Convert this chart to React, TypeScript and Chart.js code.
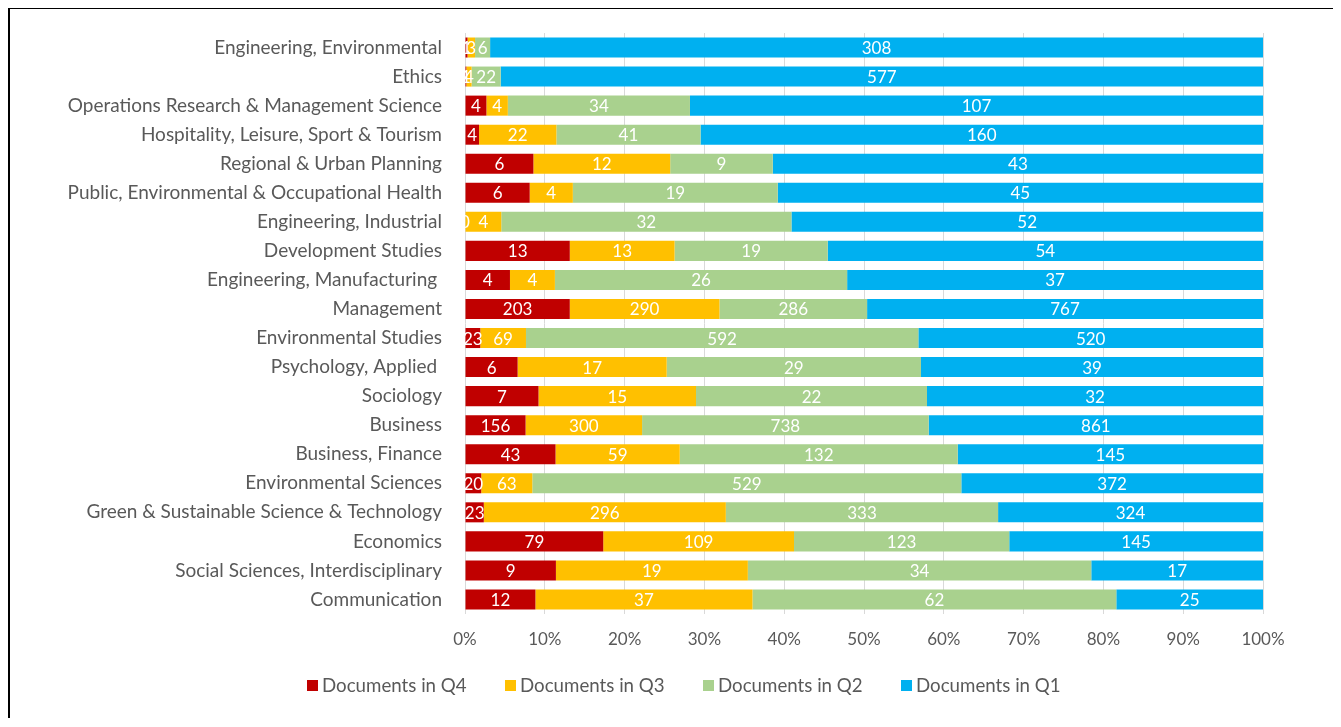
import React, { useEffect, useRef } from "react";
import { Chart, registerables } from "chart.js";

Chart.register(...registerables);

const categories = [
  "Engineering, Environmental",
  "Ethics",
  "Operations Research & Management Science",
  "Hospitality, Leisure, Sport & Tourism",
  "Regional & Urban Planning",
  "Public, Environmental & Occupational Health",
  "Engineering, Industrial",
  "Development Studies",
  "Engineering, Manufacturing ",
  "Management",
  "Environmental Studies",
  "Psychology, Applied ",
  "Sociology",
  "Business",
  "Business, Finance",
  "Environmental Sciences",
  "Green & Sustainable Science & Technology",
  "Economics",
  "Social Sciences, Interdisciplinary",
  "Communication",
];

const q4 = [1, 1, 4, 4, 6, 6, 0, 13, 4, 203, 23, 6, 7, 156, 43, 20, 23, 79, 9, 12];
const q3 = [3, 4, 4, 22, 12, 4, 4, 13, 4, 290, 69, 17, 15, 300, 59, 63, 296, 109, 19, 37];
const q2 = [6, 22, 34, 41, 9, 19, 32, 19, 26, 286, 592, 29, 22, 738, 132, 529, 333, 123, 34, 62];
const q1 = [308, 577, 107, 160, 43, 45, 52, 54, 37, 767, 520, 39, 32, 861, 145, 372, 324, 145, 17, 25];

const seriesNames = ["Documents in Q4", "Documents in Q3", "Documents in Q2", "Documents in Q1"];
const seriesColors = ["#C00000", "#FFC000", "#A9D18E", "#00B0F0"];
const seriesCounts = [q4, q3, q2, q1];

const xTicks = [0, 10, 20, 30, 40, 50, 60, 70, 80, 90, 100];

const totals = categories.map((_, i) => q4[i] + q3[i] + q2[i] + q1[i]);

const valueLabels = {
  id: "valueLabels",
  afterDatasetsDraw(chart: any) {
    const ctx = chart.ctx;
    ctx.save();
    ctx.font = "17px Lato";
    ctx.fillStyle = "#FFFFFF";
    ctx.textAlign = "center";
    ctx.textBaseline = "middle";
    chart.data.datasets.forEach((_ds: any, di: number) => {
      const meta = chart.getDatasetMeta(di);
      meta.data.forEach((bar: any, i: number) => {
        const p = bar.getProps(["x", "base", "y"], true);
        ctx.fillText(String(seriesCounts[di][i]), (p.x + p.base) / 2, p.y + 1);
      });
    });
    ctx.restore();
  },
};

export default function App() {
  const canvasRef = useRef<HTMLCanvasElement | null>(null);

  useEffect(() => {
    if (!canvasRef.current) return;
    Chart.defaults.font.family = "Lato";
    const chart = new Chart(canvasRef.current, {
      type: "bar",
      data: {
        labels: categories,
        datasets: seriesCounts.map((arr, di) => ({
          label: seriesNames[di],
          data: arr.map((v, i) => (v / totals[i]) * 100),
          backgroundColor: seriesColors[di],
          borderWidth: 0,
          barPercentage: 0.69,
          categoryPercentage: 1,
        })),
      },
      options: {
        indexAxis: "y",
        animation: false,
        responsive: true,
        maintainAspectRatio: false,
        layout: { padding: { top: 24, right: 78, bottom: 64, left: 0 } },
        plugins: {
          legend: { display: false },
          tooltip: { enabled: false },
        },
        scales: {
          x: {
            stacked: true,
            min: 0,
            max: 100,
            afterBuildTicks: (scale: any) => {
              scale.ticks = xTicks.map((v) => ({ value: v }));
            },
            afterFit: (scale: any) => {
              scale.height = 40;
            },
            ticks: {
              color: "#595959",
              font: { size: 17 },
              padding: 15,
              callback: (v: any) => v + "%",
            },
            grid: { color: "#D9D9D9", drawTicks: false, lineWidth: 1 },
            border: { display: false },
          },
          y: {
            stacked: true,
            afterFit: (scale: any) => {
              scale.width = 455;
              scale.paddingTop = 0;
              scale.paddingBottom = 0;
            },
            ticks: {
              color: "#595959",
              font: { size: 19 },
              padding: 23,
              autoSkip: false,
            },
            grid: { display: false, drawTicks: false },
            border: { display: false },
          },
        },
      },
      plugins: [valueLabels],
    });
    return () => chart.destroy();
  }, []);

  return (
    <div
      style={{
        marginLeft: -1,
        marginTop: -2,
        width: 1334,
        height: 712,
        boxSizing: "border-box",
        borderLeft: "3px solid #000",
        borderTop: "3px solid #000",
        position: "relative",
        fontFamily: "Lato",
      }}
    >
      <div style={{ position: "absolute", left: 0, top: 0, width: 1331, height: 709 }}>
        <canvas ref={canvasRef} />
      </div>
      <div
        style={{
          position: "absolute",
          left: 297,
          top: 665,
          display: "flex",
          whiteSpace: "nowrap",
        }}
      >
        {seriesNames.map((name, i) => (
          <div
            key={name}
            style={{
              width: 198,
              display: "flex",
              alignItems: "center",
              height: 22,
              fontSize: 18.7,
              color: "#595959",
            }}
          >
            <span
              style={{
                display: "inline-block",
                width: 11,
                height: 11,
                background: seriesColors[i],
                marginRight: 4,
              }}
            />
            <span>{name}</span>
          </div>
        ))}
      </div>
    </div>
  );
}
